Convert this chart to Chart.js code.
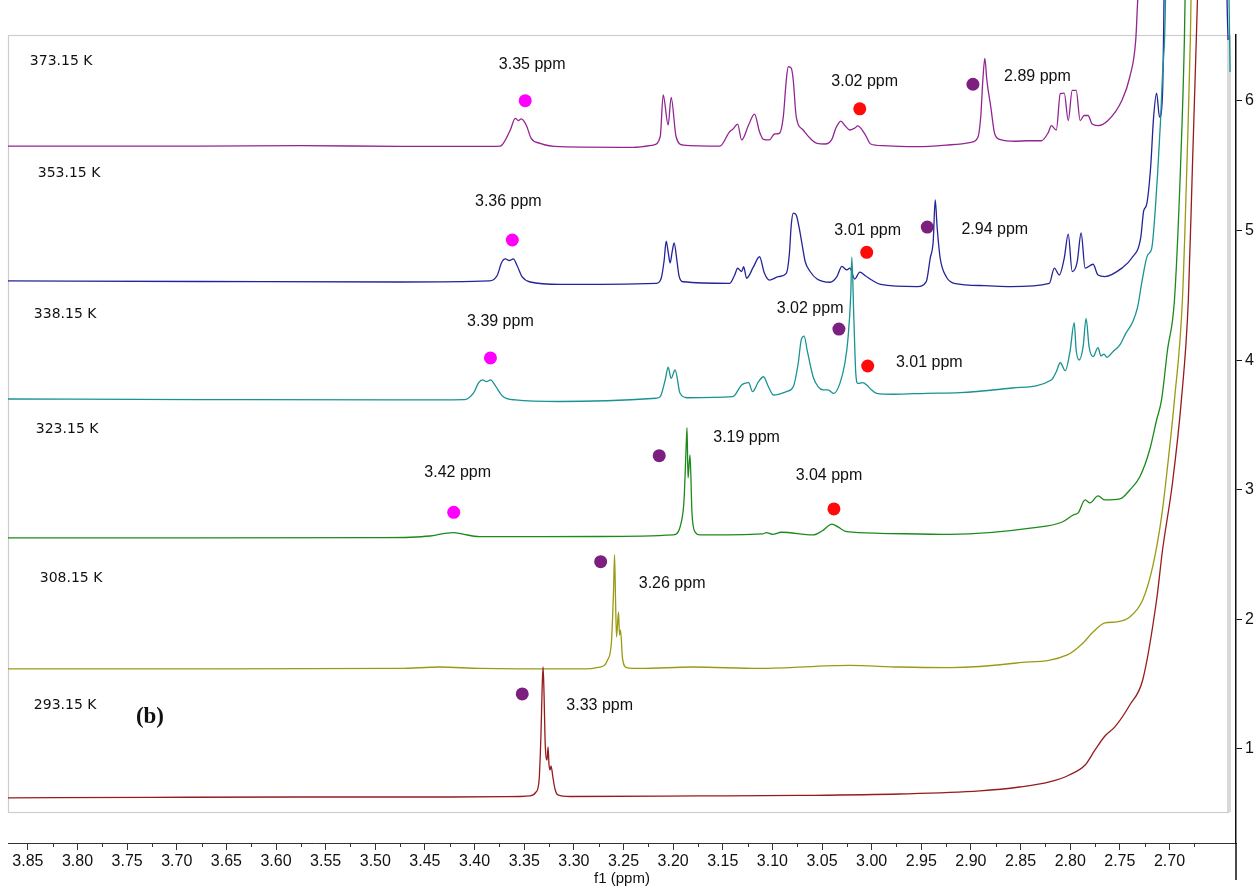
<!DOCTYPE html>
<html>
<head>
<meta charset="utf-8">
<script src="https://cdn.jsdelivr.net/npm/chart.js@4.4.1/dist/chart.umd.min.js"></script>
<style>
  html, body { margin: 0; padding: 0; background: #ffffff; }
  #wrap { width: 1257px; height: 888px; }
</style>
</head>
<body>
<div id="wrap"><canvas id="c" width="1257" height="888"></canvas></div>
<script>
// 1H NMR spectra of the same sample recorded at six temperatures, stacked.
// Each trace: [chemical shift (ppm), stacked intensity level].

const t293 = [[3.870,0.622],[3.727,0.626],[3.576,0.629],[3.425,0.629],[3.354,0.633],[3.344,0.637],[3.338,0.668],[3.335,0.760],[3.333,1.146],[3.332,1.455],[3.331,1.632],[3.330,1.417],[3.329,1.069],[3.327,0.915],[3.326,1.015],[3.325,0.876],[3.324,0.838],[3.323,0.869],[3.321,0.776],[3.319,0.691],[3.316,0.645],[3.304,0.633],[3.173,0.637],[3.073,0.641],[2.972,0.652],[2.891,0.676],[2.851,0.706],[2.821,0.745],[2.801,0.799],[2.785,0.876],[2.775,0.992],[2.765,1.100],[2.755,1.170],[2.740,1.339],[2.727,1.532],[2.713,2.149],[2.707,2.535],[2.697,3.052],[2.688,3.693],[2.681,4.464],[2.677,5.467],[2.673,6.470],[2.671,7.010]];

const t308 = [[3.870,1.617],[3.677,1.617],[3.475,1.621],[3.435,1.632],[3.395,1.621],[3.294,1.617],[3.274,1.632],[3.266,1.686],[3.262,1.841],[3.260,2.226],[3.259,2.497],[3.258,2.149],[3.257,1.864],[3.255,2.057],[3.254,1.879],[3.253,1.918],[3.251,1.701],[3.247,1.628],[3.233,1.621],[3.180,1.632],[3.113,1.621],[3.022,1.644],[2.972,1.632],[2.921,1.628],[2.854,1.663],[2.803,1.725],[2.787,1.818],[2.777,1.902],[2.765,1.972],[2.753,1.980],[2.740,2.018],[2.727,2.149],[2.717,2.404],[2.708,2.790],[2.702,3.176],[2.695,3.693],[2.687,4.464],[2.682,5.622],[2.679,6.470],[2.678,6.933]];

const t323 = [[3.870,2.628],[3.677,2.628],[3.495,2.630],[3.445,2.643],[3.430,2.663],[3.421,2.669],[3.413,2.659],[3.395,2.638],[3.274,2.639],[3.200,2.651],[3.192,2.743],[3.189,2.921],[3.187,3.307],[3.186,3.479],[3.185,3.091],[3.183,3.268],[3.181,2.821],[3.178,2.676],[3.173,2.651],[3.110,2.659],[3.106,2.669],[3.100,2.656],[3.091,2.672],[3.059,2.651],[3.050,2.682],[3.040,2.734],[3.034,2.713],[3.025,2.676],[2.992,2.664],[2.921,2.655],[2.838,2.705],[2.808,2.751],[2.797,2.805],[2.792,2.821],[2.785,2.921],[2.780,2.898],[2.772,2.952],[2.765,2.921],[2.750,2.929],[2.740,2.998],[2.730,3.098],[2.720,3.307],[2.713,3.538],[2.708,3.693],[2.702,4.078],[2.695,4.464],[2.689,5.467],[2.685,6.470],[2.684,6.933]];

const t338 = [[3.870,3.700],[3.677,3.696],[3.475,3.693],[3.410,3.696],[3.401,3.747],[3.396,3.824],[3.392,3.847],[3.388,3.835],[3.384,3.847],[3.379,3.801],[3.372,3.724],[3.359,3.693],[3.314,3.681],[3.217,3.706],[3.213,3.718],[3.208,3.847],[3.205,3.945],[3.202,3.860],[3.198,3.924],[3.193,3.744],[3.186,3.710],[3.140,3.718],[3.131,3.808],[3.128,3.821],[3.124,3.826],[3.120,3.757],[3.114,3.834],[3.109,3.872],[3.104,3.795],[3.099,3.731],[3.086,3.757],[3.079,3.795],[3.074,3.976],[3.071,4.155],[3.068,4.186],[3.065,4.078],[3.059,3.872],[3.054,3.795],[3.049,3.770],[3.044,3.770],[3.038,3.744],[3.032,3.821],[3.027,3.976],[3.024,4.155],[3.021,4.516],[3.020,4.794],[3.018,4.335],[3.016,3.899],[3.014,3.821],[3.009,3.826],[3.005,3.808],[3.000,3.770],[2.995,3.744],[2.978,3.737],[2.945,3.744],[2.911,3.749],[2.858,3.785],[2.819,3.847],[2.814,3.911],[2.810,3.980],[2.805,3.919],[2.800,4.078],[2.796,4.289],[2.794,4.078],[2.791,4.001],[2.787,4.104],[2.784,4.323],[2.781,4.104],[2.777,4.027],[2.772,4.096],[2.769,4.032],[2.766,4.047],[2.763,4.022],[2.757,4.065],[2.750,4.117],[2.744,4.207],[2.737,4.297],[2.732,4.413],[2.728,4.595],[2.722,4.811],[2.718,4.858],[2.712,5.436],[2.709,5.849],[2.707,6.208],[2.705,6.470],[2.703,7.010],[2.642,7.500],[2.640,6.779],[2.639,6.223]];

const t353 = [[3.870,4.611],[3.677,4.607],[3.475,4.603],[3.385,4.611],[3.377,4.657],[3.373,4.750],[3.369,4.781],[3.365,4.769],[3.361,4.781],[3.357,4.727],[3.352,4.642],[3.344,4.603],[3.314,4.585],[3.217,4.593],[3.212,4.632],[3.209,4.773],[3.207,4.919],[3.205,4.835],[3.203,4.750],[3.201,4.835],[3.199,4.904],[3.196,4.757],[3.194,4.649],[3.190,4.605],[3.143,4.593],[3.138,4.657],[3.135,4.709],[3.131,4.683],[3.129,4.721],[3.126,4.632],[3.119,4.721],[3.113,4.798],[3.108,4.670],[3.103,4.618],[3.094,4.644],[3.086,4.670],[3.083,4.811],[3.081,5.043],[3.079,5.135],[3.076,5.120],[3.073,5.020],[3.070,4.889],[3.067,4.761],[3.062,4.684],[3.055,4.626],[3.042,4.601],[3.035,4.645],[3.030,4.723],[3.025,4.696],[3.022,4.710],[3.017,4.626],[3.012,4.679],[3.006,4.649],[3.000,4.618],[2.991,4.585],[2.954,4.568],[2.945,4.606],[2.941,4.788],[2.938,4.917],[2.936,5.236],[2.934,5.020],[2.931,4.788],[2.925,4.645],[2.917,4.593],[2.886,4.575],[2.860,4.568],[2.821,4.593],[2.816,4.710],[2.811,4.657],[2.806,4.788],[2.802,4.973],[2.798,4.684],[2.793,4.757],[2.789,4.981],[2.785,4.710],[2.777,4.740],[2.772,4.657],[2.765,4.645],[2.748,4.710],[2.738,4.788],[2.729,4.943],[2.726,5.151],[2.723,5.202],[2.719,5.487],[2.716,5.875],[2.713,6.061],[2.710,5.875],[2.707,6.056],[2.706,6.470],[2.705,7.010],[2.643,7.500],[2.642,6.779],[2.641,6.470]];

const t373 = [[3.870,5.652],[3.677,5.652],[3.576,5.656],[3.475,5.649],[3.395,5.649],[3.374,5.652],[3.369,5.699],[3.364,5.776],[3.359,5.866],[3.356,5.849],[3.353,5.861],[3.348,5.814],[3.343,5.712],[3.334,5.673],[3.314,5.647],[3.240,5.642],[3.220,5.660],[3.213,5.724],[3.210,6.046],[3.205,5.814],[3.202,6.028],[3.197,5.724],[3.190,5.660],[3.153,5.652],[3.143,5.763],[3.140,5.781],[3.135,5.822],[3.131,5.699],[3.124,5.814],[3.118,5.899],[3.113,5.763],[3.109,5.704],[3.103,5.699],[3.098,5.745],[3.093,5.750],[3.089,5.879],[3.086,6.162],[3.084,6.264],[3.081,6.254],[3.079,6.162],[3.076,5.879],[3.069,5.776],[3.062,5.712],[3.055,5.673],[3.047,5.668],[3.040,5.706],[3.036,5.791],[3.031,5.844],[3.027,5.810],[3.022,5.776],[3.017,5.791],[3.014,5.807],[3.006,5.733],[3.001,5.668],[2.988,5.655],[2.954,5.647],[2.920,5.662],[2.900,5.681],[2.893,5.720],[2.890,5.892],[2.888,6.162],[2.886,6.328],[2.884,6.162],[2.880,5.953],[2.876,5.745],[2.870,5.701],[2.856,5.689],[2.843,5.693],[2.829,5.693],[2.822,5.758],[2.819,5.810],[2.814,5.776],[2.810,6.056],[2.806,6.061],[2.802,5.849],[2.798,6.082],[2.794,6.082],[2.790,5.849],[2.786,5.888],[2.782,5.888],[2.778,5.822],[2.772,5.810],[2.762,5.849],[2.748,6.004],[2.740,6.185],[2.734,6.470],[2.732,6.779],[2.730,7.010]];

// Peak markers (ppm, level)
const markMagenta = [[3.349,6.002],[3.362,4.927],[3.384,4.017],[3.421,2.826]];
const markRed     = [[3.012,5.939],[3.005,4.832],[3.004,3.955],[3.038,2.852]];
const markPurple  = [[2.898,6.129],[2.944,5.027],[3.033,4.240],[3.214,3.263],[3.273,2.445],[3.352,1.424]];

// Peak annotations
const peakTexts = ['3.35 ppm','3.02 ppm','2.89 ppm','3.36 ppm','3.01 ppm','2.94 ppm','3.39 ppm','3.02 ppm','3.01 ppm','3.42 ppm','3.19 ppm','3.04 ppm','3.26 ppm','3.33 ppm'];
const peakTextPpm = [3.342,3.007,2.833,3.366,3.004,2.876,3.374,3.062,2.942,3.417,3.126,3.043,3.201,3.274];
const peakTextLevel = [6.277,6.146,6.185,5.220,4.997,5.004,4.295,4.395,3.978,3.129,3.399,3.111,2.273,1.331];

// Temperature captions (left edge ppm, level)
const tempTexts = ['373.15 K','353.15 K','338.15 K','323.15 K','308.15 K','293.15 K'];
const tempTextPpm = [3.848,3.840,3.844,3.842,3.838,3.844];
const tempTextLevel = [6.308,5.444,4.356,3.469,2.319,1.339];

// Axis ticks
const xTickValues = [3.85,3.80,3.75,3.70,3.65,3.60,3.55,3.50,3.45,3.40,3.35,3.30,3.25,3.20,3.15,3.10,3.05,3.00,2.95,2.90,2.85,2.80,2.75,2.70];
const xMinorTicks = [3.825,3.775,3.725,3.675,3.625,3.575,3.525,3.475,3.425,3.375,3.325,3.275,3.225,3.175,3.125,3.075,3.025,2.975,2.925,2.875,2.825,2.775,2.725,2.675];
const yTickValues = [1,2,3,4,5,6];

const toXY = arr => arr.map(p => ({ x: p[0], y: p[1] }));

function trace(data, color) {
  return {
    type: 'line',
    data: toXY(data),
    borderColor: color,
    borderWidth: 1.3,
    pointRadius: 0,
    fill: false,
    cubicInterpolationMode: 'monotone',
    clip: { left: 0, top: 40, right: 2, bottom: 0 }
  };
}
function markers(data, color, r) {
  return {
    type: 'line',
    data: toXY(data),
    showLine: false,
    pointRadius: r,
    pointHoverRadius: r,
    pointBackgroundColor: color,
    pointBorderWidth: 0,
    clip: false
  };
}

const decor = {
  id: 'decor',
  beforeDatasetsDraw(chart) {
    const { ctx, scales: { x, y } } = chart;
    const l = x.getPixelForValue(3.870), r = x.getPixelForValue(2.641);
    const t = y.getPixelForValue(6.509), b = y.getPixelForValue(0.514);
    ctx.save();
    ctx.strokeStyle = '#cdcdcd';
    ctx.lineWidth = 1.2;
    ctx.strokeRect(Math.round(l) + 0.5, Math.round(t) + 0.5, Math.round(r - l), Math.round(b - t));
    ctx.fillStyle = '#d9d9d9';
    ctx.fillRect(Math.round(r) - 1, Math.round(t), 4, Math.round(b - t));
    ctx.restore();
  },
  afterDatasetsDraw(chart) {
    const { ctx, scales: { x, y } } = chart;
    ctx.save();
    ctx.fillStyle = '#111111';
    ctx.textBaseline = 'middle';
    ctx.textAlign = 'center';
    ctx.font = '16px "Liberation Sans", Arial, sans-serif';
    peakTexts.forEach((s, i) => {
      ctx.fillText(s, x.getPixelForValue(peakTextPpm[i]), y.getPixelForValue(peakTextLevel[i]));
    });
    ctx.textAlign = 'left';
    ctx.font = '14px "DejaVu Sans", sans-serif';
    tempTexts.forEach((s, i) => {
      ctx.fillText(s, x.getPixelForValue(tempTextPpm[i]), y.getPixelForValue(tempTextLevel[i]));
    });
    ctx.textAlign = 'center';
    ctx.font = 'bold 23px "Liberation Serif", "Times New Roman", serif';
    ctx.fillText('(b)', x.getPixelForValue(3.727), y.getPixelForValue(1.247));
    ctx.restore();
  },
  afterDraw(chart) {
    const { ctx, scales: { x, y }, chartArea } = chart;
    ctx.save();
    ctx.strokeStyle = '#333333';
    ctx.lineWidth = 1;
    ctx.beginPath();
    xMinorTicks.forEach(v => {
      const px = Math.round(x.getPixelForValue(v)) + 0.5;
      ctx.moveTo(px, chartArea.bottom);
      ctx.lineTo(px, chartArea.bottom + 4);
    });
    ctx.stroke();
    ctx.strokeStyle = '#111111';
    ctx.lineWidth = 1.5;
    ctx.beginPath();
    ctx.moveTo(chartArea.right, chartArea.bottom);
    ctx.lineTo(chartArea.right, chartArea.bottom + 37);
    ctx.stroke();
    ctx.restore();
  }
};

new Chart(document.getElementById('c'), {
  type: 'line',
  data: {
    datasets: [
      trace(t293, '#961b1b'),
      trace(t308, '#9b9a14'),
      trace(t323, '#1b8a1b'),
      trace(t338, '#189292'),
      trace(t353, '#23239a'),
      trace(t373, '#922592'),
      markers(markMagenta, '#ff00ff', 6.5),
      markers(markRed, '#ff0a0a', 6.5),
      markers(markPurple, '#7c1f7e', 6.5),
      markers(markMagenta.concat(markRed, markPurple), '#ffffff', 1.2)
    ]
  },
  options: {
    responsive: false,
    animation: false,
    events: [],
    layout: { padding: { left: 8, top: 35, right: 0, bottom: 0 } },
    plugins: { legend: { display: false }, tooltip: { enabled: false } },
    scales: {
      x: {
        type: 'linear',
        position: 'bottom',
        reverse: true,
        min: 2.633,
        max: 3.870,
        afterBuildTicks: s => { s.ticks = xTickValues.map(v => ({ value: v })); },
        afterFit: s => { s.height = 45; },
        ticks: {
          callback: v => Number(v).toFixed(2),
          font: { family: '"Liberation Sans", Arial, sans-serif', size: 16 },
          color: '#111111',
          padding: 2,
          maxRotation: 0,
          autoSkip: false
        },
        grid: { drawOnChartArea: false, drawTicks: true, tickLength: 7, color: '#333333', lineWidth: 1 },
        border: { display: true, color: '#333333', width: 1 },
        title: {
          display: true,
          text: 'f1 (ppm)',
          font: { family: '"Liberation Sans", Arial, sans-serif', size: 15 },
          color: '#111111',
          padding: 0
        }
      },
      y: {
        type: 'linear',
        position: 'right',
        min: 0.274,
        max: 6.509,
        afterBuildTicks: s => { s.ticks = yTickValues.map(v => ({ value: v })); },
        afterFit: s => { s.width = 21; },
        ticks: {
          font: { family: '"Liberation Sans", Arial, sans-serif', size: 16 },
          color: '#111111',
          padding: 3
        },
        grid: { drawOnChartArea: false, drawTicks: true, tickLength: 6, color: '#111111', lineWidth: 1 },
        border: { display: true, color: '#111111', width: 1.5 }
      }
    }
  },
  plugins: [decor]
});
</script>
</body>
</html>
